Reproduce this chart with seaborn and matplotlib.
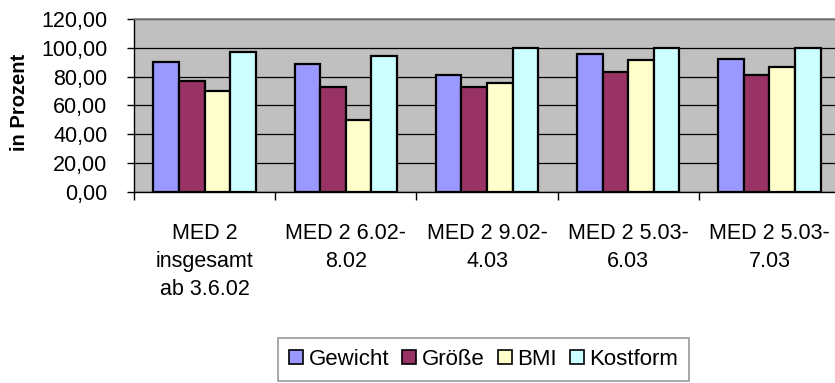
import matplotlib
matplotlib.use("Agg")
import matplotlib.pyplot as plt
import matplotlib.ticker as mticker
import seaborn as sns
import pandas as pd

categories = [
    "MED 2\ninsgesamt\nab 3.6.02",
    "MED 2 6.02-\n8.02",
    "MED 2 9.02-\n4.03",
    "MED 2 5.03-\n6.03",
    "MED 2 5.03-\n7.03",
]
series_names = ["Gewicht", "Größe", "BMI", "Kostform"]
gewicht = [90.0, 88.5, 81.0, 95.6, 92.5]
groesse = [77.0, 72.7, 72.5, 83.0, 81.3]
bmi = [70.0, 50.0, 75.5, 91.3, 87.0]
kostform = [97.0, 94.0, 100.0, 100.0, 100.0]
y_ticks = [0, 20, 40, 60, 80, 100, 120]

colors = ["#9999FF", "#993366", "#FFFFCC", "#CCFFFF"]

rows = []
for name, vals in zip(series_names, [gewicht, groesse, bmi, kostform]):
    for cat, v in zip(categories, vals):
        rows.append({"Kategorie": cat, "Serie": name, "Wert": v})
df = pd.DataFrame(rows)

sns.set_theme(style="white")
plt.rcParams["font.family"] = ["Liberation Sans", "DejaVu Sans"]
plt.rcParams["text.color"] = "black"
plt.rcParams["xtick.labelcolor"] = "black"
plt.rcParams["ytick.labelcolor"] = "black"

W, H = 835, 383
fig = plt.figure(figsize=(W / 100, H / 100), dpi=100)
left, right, top, bottom = 134, 840, 19, 192
ax = fig.add_axes([left / W, 1 - bottom / H, (right - left) / W, (bottom - top) / H])
ax.set_facecolor("#C0C0C0")

sns.barplot(data=df, x="Kategorie", y="Wert", hue="Serie", order=categories,
            hue_order=series_names, palette=colors, width=0.726, gap=0,
            edgecolor="black", linewidth=1.6, saturation=1, ax=ax, zorder=3)

ax.set_ylim(0, 120)
ax.set_xlim(-0.5, len(categories) - 0.5)
ax.set_yticks(y_ticks)
ax.yaxis.set_major_formatter(mticker.FuncFormatter(lambda v, p: f"{v:.2f}".replace(".", ",")))
ax.yaxis.grid(True, color="black", linewidth=0.9, zorder=1)
ax.set_axisbelow(True)

fs = 15.5
ax.tick_params(axis="y", which="major", direction="out", length=5, width=1,
               color="black", labelcolor="black", labelsize=fs, pad=14, left=True)
ax.set_xticks(range(len(categories)))
ax.set_xticklabels(categories, fontsize=fs, linespacing=1.45, color="black")
ax.tick_params(axis="x", which="major", length=0, pad=22)
ax.set_xticks([i - 0.5 for i in range(len(categories) + 1)], minor=True)
ax.tick_params(axis="x", which="minor", direction="out", length=6, width=1,
               color="black", bottom=True)

for s in ["left", "bottom"]:
    ax.spines[s].set_color("black")
    ax.spines[s].set_linewidth(1)
for s in ["top", "right"]:
    ax.spines[s].set_color("#808080")
    ax.spines[s].set_linewidth(1.2)

ax.set_xlabel("")
ax.set_ylabel("")
fig.text(20 / W, 1 - 102 / H, "in Prozent", rotation=90, ha="center", va="center",
         fontsize=14.5, fontweight="bold", color="black")

handles, labels = ax.get_legend_handles_labels()
ax.get_legend().remove()
leg = fig.legend(handles, labels, loc="upper left",
                 bbox_to_anchor=(278 / W, 1 - 338 / H), ncol=4, fontsize=16,
                 frameon=True, fancybox=False, edgecolor="#808080",
                 handlelength=0.62, handleheight=0.62, handletextpad=0.25,
                 columnspacing=0.6, borderpad=0.5, borderaxespad=0,
                 labelcolor="black")
leg.get_frame().set_linewidth(1.2)
for p in leg.get_patches():
    p.set_edgecolor("black")
    p.set_linewidth(1.2)

fig.savefig("out.png", dpi=100)
